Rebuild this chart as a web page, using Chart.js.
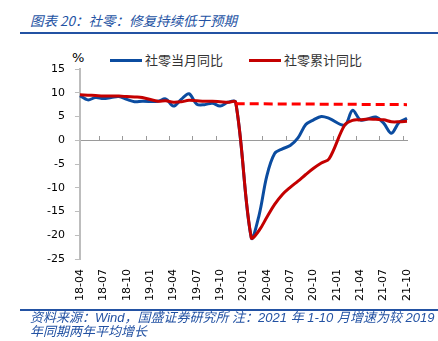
<!DOCTYPE html>
<html>
<head>
<meta charset="utf-8">
<script src="https://cdn.jsdelivr.net/npm/chart.js@4/dist/chart.umd.min.js"></script>
<style>
    body { margin: 0; width: 438px; height: 341px; background: #fff; position: relative; overflow: hidden;
           font-family: "Noto Sans CJK SC", sans-serif; }
    .title { position: absolute; left: 30px; top: 11px; font-size: 13.5px; line-height: 18px; font-style: italic; color: #2352a3; white-space: nowrap; }
    .rule { position: absolute; left: 20px; width: 418px; height: 2px; background: #2352a3; }
    .legend { position: absolute; left: 110px; top: 51px; display: flex; align-items: center; font-size: 13px; line-height: 18px; color: #333; }
    .legend .swatch { display: inline-block; width: 32px; height: 3px; margin-right: 3px; }
    .legend .item { display: flex; align-items: center; margin-right: 26px; }
    .unit { position: absolute; left: 72px; top: 50px; font: 13px "DejaVu Sans"; color: #000; }
    .source { position: absolute; left: 30px; top: 311px; font-size: 13px; line-height: 14px; font-style: italic; color: #2352a3; white-space: nowrap;
              font-family: "Liberation Sans", "Noto Sans CJK SC", sans-serif; }
    #wrap { position: absolute; left: 0; top: 36px; width: 438px; height: 279px; }
</style>
</head>
<body>
<div class="title">图表 20：社零：修复持续低于预期</div>
<div class="rule" style="top:32px"></div>
<div class="unit">%</div>
<div class="legend" id="legend"></div>
<div id="wrap"><canvas id="retailChart"></canvas></div>
<div class="rule" style="top:309px"></div>
<div class="source">资料来源：Wind，国盛证券研究所 注：2021 年 1-10 月增速为较 2019<br>年同期两年平均增长</div>
<script>
const months = [
    '18-04', '18-05', '18-06', '18-07', '18-08', '18-09', '18-10', '18-11', '18-12',
    '19-01', '19-02', '19-03', '19-04', '19-05', '19-06', '19-07', '19-08', '19-09', '19-10', '19-11', '19-12',
    '20-01', '20-02', '20-03', '20-04', '20-05', '20-06', '20-07', '20-08', '20-09', '20-10', '20-11', '20-12',
    '21-01', '21-02', '21-03', '21-04', '21-05', '21-06', '21-07', '21-08', '21-09', '21-10'
];

// 社零当月同比 (January has no separate release)
const monthly = [
    9.4, 8.5, 9.0, 8.8, 9.0, 9.2, 8.6, 8.1, 8.2,
    null, 8.2, 8.7, 7.2, 8.6, 9.8, 7.6, 7.5, 7.8, 7.2, 8.0, 8.0,
    null, -20.5, -15.8, -7.5, -2.8, -1.8, -1.1, 0.5, 3.3, 4.3, 5.0, 4.6,
    null, 3.2, 6.3, 4.3, 4.5, 4.9, 3.6, 1.5, 3.8, 4.6
];

// 社零累计同比
const cumulative = [
    9.6, 9.5, 9.4, 9.3, 9.3, 9.3, 9.2, 9.1, 9.0,
    null, 8.2, 8.3, 8.0, 8.1, 8.4, 8.3, 8.2, 8.2, 8.1, 8.0, 8.0,
    null, -20.5, -19.0, -16.2, -13.5, -11.4, -9.9, -8.6, -7.2, -5.9, -4.8, -3.9,
    null, 3.2, 4.2, 4.3, 4.5, 4.4, 4.3, 3.9, 3.9, 4.0
];

// pre-covid trend (dashed)
const trendMonths = ['19-12', '21-10'];
const trendValues = [7.7, 7.5];

const yTicks = { min: -25, max: 15, step: 5 };
const labelEvery = 3;

const BLUE = '#0b4ca0';
const RED = '#c40000';

const series = [
    { label: '社零当月同比', color: BLUE },
    { label: '社零累计同比', color: RED }
];

document.getElementById('legend').innerHTML = series.map(s => `
    <span class="item"><span class="swatch" style="background:${s.color}"></span>${s.label}</span>
`).join('');

Chart.defaults.font.family = 'DejaVu Sans';
Chart.defaults.font.size = 11;
Chart.defaults.color = '#000';

const ctx = document.getElementById('retailChart').getContext('2d');

new Chart(ctx, {
    type: 'line',
    data: {
        labels: months,
        datasets: [
            {
                label: series[0].label,
                data: monthly,
                borderColor: BLUE,
                borderWidth: 3,
                pointRadius: 0,
                tension: 0.35,
                spanGaps: true,
                order: 2
            },
            {
                label: series[1].label,
                data: cumulative,
                borderColor: RED,
                borderWidth: 3,
                pointRadius: 0,
                tension: 0.35,
                spanGaps: true,
                order: 1
            },
            {
                label: 'trend',
                data: trendMonths.map((m, i) => ({ x: m, y: trendValues[i] })),
                borderColor: '#ff0000',
                borderWidth: 3,
                borderDash: [9, 5],
                pointRadius: 0,
                order: 0
            }
        ]
    },
    options: {
        responsive: true,
        maintainAspectRatio: false,
        animation: false,
        layout: { padding: { top: 33, left: 37, right: 31, bottom: 4 } },
        plugins: {
            legend: { display: false },
            tooltip: { enabled: false }
        },
        scales: {
            x: {
                grid: { display: false, drawTicks: false },
                border: { display: false },
                ticks: {
                    autoSkip: false,
                    minRotation: 90,
                    maxRotation: 90,
                    padding: 10,
                    callback: (value, index) => index % labelEvery === 0 ? months[index] : ''
                }
            },
            // zero line with its small tick marks between the label groups
            zero: {
                type: 'linear',
                axis: 'x',
                position: { y: 0 },
                min: 0,
                max: months.length - 1,
                ticks: { display: false },
                afterBuildTicks: axis => {
                    const ticks = [];
                    for (let v = labelEvery - 0.5; v < months.length - 1; v += labelEvery) {
                        ticks.push({ value: v });
                    }
                    axis.ticks = ticks;
                },
                grid: { drawOnChartArea: false, drawTicks: true, tickLength: -5, color: '#9a9a9a' },
                border: { color: '#9a9a9a', width: 1 }
            },
            y: {
                min: yTicks.min,
                max: yTicks.max,
                ticks: { stepSize: yTicks.step, padding: 10 },
                grid: { drawOnChartArea: false, tickLength: 5, color: '#bdbdbd', lineWidth: 1 },
                border: { color: '#bdbdbd', width: 2 }
            }
        }
    }
});
</script>
</body>
</html>
